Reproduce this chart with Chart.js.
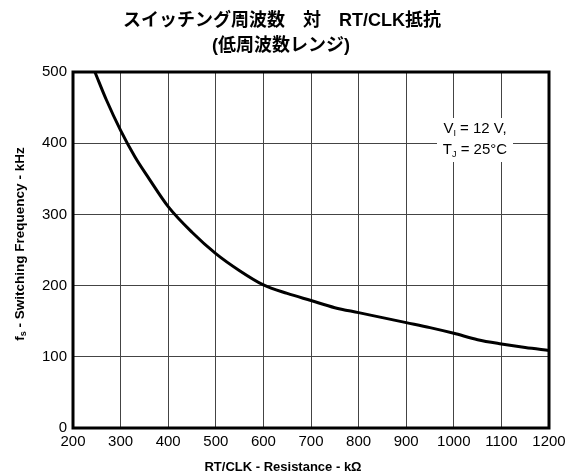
<!DOCTYPE html>
<html>
<head>
<meta charset="utf-8">
<script src="https://cdn.jsdelivr.net/npm/chart.js@4"></script>
<style>
html,body{margin:0;padding:0;background:#fff;}
#wrap{width:580px;height:474px;position:relative;}
</style>
</head>
<body>
<div id="wrap"><canvas id="c" width="580" height="474"></canvas></div>
<script>
const resistance = [246, 270, 300, 330, 360, 400, 450, 500, 550, 600, 650, 700, 750, 800, 850, 900, 950, 1000, 1050, 1100, 1150, 1200];
const frequency  = [500, 461, 418, 381, 350, 311, 275, 245, 221, 201, 189, 179, 169, 162, 155, 148, 141, 133, 124, 118, 113, 109];
const xTicks = [200, 300, 400, 500, 600, 700, 800, 900, 1000, 1100, 1200];
const yTicks = [0, 100, 200, 300, 400, 500];
const titleLines = ['スイッチング周波数　対　RT/CLK抵抗', '(低周波数レンジ)'];
const xTitle = 'RT/CLK - Resistance - kΩ';
const yTitleMain = 'f';
const yTitleSub = 's';
const yTitleRest = ' - Switching Frequency - kHz';
const noteLines = [['V', 'I', ' = 12 V,'], ['T', 'J', ' = 25°C']];

const FONT = '"Liberation Sans", Arial, "Noto Sans CJK JP", sans-serif';

const decor = {
  id: 'decor',
  afterDatasetsDraw(chart) {
    const ctx = chart.ctx;
    const a = chart.chartArea;
    ctx.save();
    ctx.strokeStyle = '#000';
    ctx.lineWidth = 3;
    ctx.strokeRect(a.left, a.top, a.right - a.left, a.bottom - a.top);
    const cx = 475, cy1 = 129, cy2 = 150;
    ctx.fillStyle = '#fff';
    ctx.fillRect(437, 118, 76, 44);
    ctx.fillStyle = '#000';
    ctx.textBaseline = 'middle';
    [[noteLines[0], cy1], [noteLines[1], cy2]].forEach(([parts, y]) => {
      ctx.font = '15px ' + FONT;
      const w0 = ctx.measureText(parts[0]).width;
      const w2 = ctx.measureText(parts[2]).width;
      ctx.font = '9px ' + FONT;
      const w1 = ctx.measureText(parts[1]).width;
      let x = cx - (w0 + w1 + w2) / 2;
      ctx.textAlign = 'left';
      ctx.font = '15px ' + FONT;
      ctx.fillText(parts[0], x, y); x += w0;
      ctx.font = '9px ' + FONT;
      ctx.fillText(parts[1], x, y + 5); x += w1;
      ctx.font = '15px ' + FONT;
      ctx.fillText(parts[2], x, y);
    });
    ctx.restore();
  },
  afterDraw(chart) {
    const ctx = chart.ctx;
    ctx.save();
    ctx.fillStyle = '#000';
    ctx.textAlign = 'center';
    ctx.textBaseline = 'middle';
    ctx.font = 'bold 18px ' + FONT;
    ctx.fillText(titleLines[0], 282, 21);
    ctx.fillText(titleLines[1], 281, 46);
    ctx.font = 'bold 13px ' + FONT;
    ctx.fillText(xTitle, 283, 467);
    ctx.translate(20, 244);
    ctx.rotate(-Math.PI / 2);
    ctx.font = 'bold 13.5px ' + FONT;
    const w0 = ctx.measureText(yTitleMain).width;
    const w2 = ctx.measureText(yTitleRest).width;
    ctx.font = 'bold 9px ' + FONT;
    const w1 = ctx.measureText(yTitleSub).width;
    let x = -(w0 + w1 + w2) / 2;
    ctx.textAlign = 'left';
    ctx.font = 'bold 13.5px ' + FONT;
    ctx.fillText(yTitleMain, x, 0); x += w0;
    ctx.font = 'bold 9px ' + FONT;
    ctx.fillText(yTitleSub, x, 4); x += w1;
    ctx.font = 'bold 13.5px ' + FONT;
    ctx.fillText(yTitleRest, x, 0);
    ctx.restore();
  }
};

new Chart(document.getElementById('c'), {
  type: 'line',
  data: {
    datasets: [{
      data: resistance.map((r, i) => ({ x: r, y: frequency[i] })),
      borderColor: '#000',
      borderWidth: 3,
      pointRadius: 0,
      fill: false,
      cubicInterpolationMode: 'monotone',
      clip: 2
    }]
  },
  options: {
    responsive: false,
    animation: false,
    devicePixelRatio: 1,
    layout: { padding: { left: 0, right: 31, top: 72, bottom: 0 } },
    plugins: { legend: { display: false }, title: { display: false }, tooltip: { enabled: false } },
    scales: {
      x: {
        type: 'linear', min: 200, max: 1200,
        afterBuildTicks(s) { s.ticks = xTicks.map(v => ({ value: v })); },
        afterFit(s) { s.height = 46; },
        grid: { color: '#444', lineWidth: 1, drawTicks: false },
        border: { display: false },
        ticks: { color: '#000', font: { family: FONT, size: 15 }, padding: 5, maxRotation: 0, autoSkip: false, callback: v => String(v) }
      },
      y: {
        type: 'linear', min: 0, max: 500,
        afterBuildTicks(s) { s.ticks = yTicks.map(v => ({ value: v })); },
        afterFit(s) { s.width = 73; },
        grid: { color: '#444', lineWidth: 1, drawTicks: false },
        border: { display: false },
        ticks: { color: '#000', font: { family: FONT, size: 15 }, padding: 6, callback: v => String(v) }
      }
    }
  },
  plugins: [decor]
});
</script>
</body>
</html>
